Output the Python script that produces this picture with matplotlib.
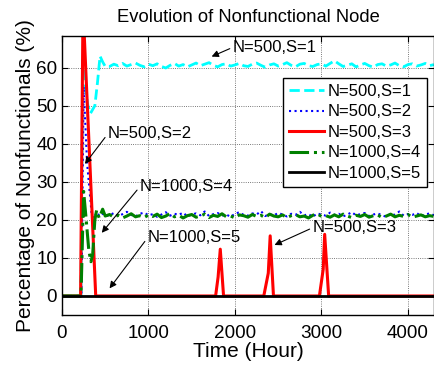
import numpy as np
import matplotlib
matplotlib.use('Agg')
import matplotlib.pyplot as plt

plt.rcParams['font.family'] = ['Liberation Sans', 'DejaVu Sans']

# start-up transients (hours, %)
s1_t0 = [0, 220, 240, 265, 300, 330, 380, 410, 440, 470, 500]
s1_v0 = [0, 0, 62, 55, 50, 48, 50, 56, 63, 61.5, 60.3]
s2_t0 = [0, 225, 250, 290, 345, 370, 400, 430, 460, 500]
s2_v0 = [0, 0, 55, 35, 21, 20.5, 22, 21.2, 21.8, 21.0]
s4_t0 = [0, 220, 250, 280, 310, 335, 355, 380, 400, 430, 470, 500]
s4_v0 = [0, 0, 27.5, 20, 12, 9, 11, 20, 22.5, 20.5, 22.8, 21.0]

# steady part sampled every 50 h from 550 h
steady_t = list(range(550, 4301, 50))
s1_v = [60.3, 60.9, 60.5, 61.1, 60.4, 60.8, 61.2, 60.6, 60.2, 60.9,
        60.5, 61.0, 60.3, 59.9, 60.6, 61.1, 60.4, 60.8, 60.2, 60.7,
        61.2, 60.5, 60.9, 61.3, 60.6, 60.2, 60.8, 61.0, 60.4, 60.7,
        61.1, 60.5, 60.3, 60.9, 61.2, 60.6, 60.1, 60.7, 61.0, 60.4,
        60.8, 61.3, 60.6, 60.2, 60.9, 61.1, 60.5, 60.3, 60.8, 61.0,
        60.4, 61.1, 61.8, 61.0, 60.3, 60.6, 61.0, 60.2, 60.7, 61.1,
        60.5, 60.1, 60.8, 61.0, 60.4, 60.7, 61.2, 60.5, 60.2, 60.8,
        61.0, 60.4, 60.7, 61.1, 60.5, 60.8]
s2_v = [21.2, 21.8, 21.0, 21.5, 22.1, 21.3, 20.9, 21.6, 21.9, 21.2,
        21.5, 20.8, 21.4, 22.0, 21.1, 21.6, 21.3, 21.9, 20.9, 21.4,
        21.7, 21.2, 22.2, 21.0, 21.5, 21.8, 21.1, 21.4, 20.8, 21.6,
        22.0, 21.3, 21.1, 21.7, 21.4, 22.3, 21.0, 21.5, 21.2, 21.8,
        21.4, 20.9, 21.6, 21.3, 22.1, 21.2, 21.5, 20.8, 21.7, 21.4,
        21.1, 21.9, 21.3, 21.6, 20.9, 21.4, 22.0, 21.2, 21.5, 21.8,
        21.0, 21.4, 21.7, 21.2, 20.8, 21.6, 21.3, 22.2, 21.1, 21.5,
        21.3, 21.8, 21.0, 21.4, 21.7, 21.2]
s4_v = [21.4, 20.7, 21.2, 20.5, 21.0, 21.6, 20.8, 21.1, 20.6, 21.3,
        20.9, 21.5, 20.6, 21.0, 21.7, 20.8, 21.2, 20.5, 21.1, 21.4,
        20.7, 21.0, 21.5, 20.6, 21.2, 20.9, 21.6, 20.8, 21.0, 20.5,
        21.3, 21.1, 20.7, 21.4, 20.9, 21.2, 20.6, 21.5, 21.0, 20.8,
        21.3, 20.6, 21.1, 21.4, 20.8, 21.0, 20.5, 21.2, 21.6, 20.9,
        21.1, 20.7, 21.3, 20.8, 21.5, 21.0, 20.6, 21.2, 20.9, 21.4,
        20.7, 21.1, 21.3, 20.6, 21.0, 21.5, 20.8, 21.2, 20.9, 21.4,
        20.7, 21.0, 21.3, 20.8, 21.1, 20.9]

# N=500,S=3 : zero except an initial burst and three later peaks
s3_t = [0, 215, 243, 390, 1776, 1805, 1830, 1868, 2333, 2385, 2407, 2445,
        2976, 3020, 3037, 3083, 4300]
s3_v = [0, 0, 76, 0, 0, 5, 12.3, 0, 0, 6, 15.8, 0, 0, 7, 16.2, 0, 0]

# N=1000,S=5 : stays at zero
s5_t = [0, 4300]
s5_v = [0, 0]

labels = ['N=500,S=1', 'N=500,S=2', 'N=500,S=3', 'N=1000,S=4', 'N=1000,S=5']

fig = plt.figure(figsize=(4.35, 3.66), dpi=100)
ax = fig.add_axes([0.1425, 0.1393, 0.855, 0.7623])

ax.plot(s1_t0 + steady_t, s1_v0 + s1_v, color='cyan', ls='--', lw=2, label=labels[0])
ax.plot(s2_t0 + steady_t, s2_v0 + s2_v, color='blue', ls=':', lw=1.5, label=labels[1])
ax.plot(s3_t, s3_v, color='red', ls='-', lw=2.2, label=labels[2])
ax.plot(s4_t0 + steady_t, s4_v0 + s4_v, color='green', ls='-.', lw=2.2, label=labels[3])
ax.plot(s5_t, s5_v, color='black', ls='-', lw=2, label=labels[4])

ax.set_xlim(0, 4300)
ax.set_ylim(-5, 68.3)
ax.set_xticks([0, 1000, 2000, 3000, 4000])
ax.set_yticks([0, 10, 20, 30, 40, 50, 60])
ax.tick_params(direction='in', top=True, right=True, labelsize=13.6, length=4)
ax.tick_params(axis='x', pad=7)
ax.grid(True, ls=':', color='0.3', lw=0.6)
for sp in ax.spines.values():
    sp.set_linewidth(1)

ax.set_title('Evolution of Nonfunctional Node', fontsize=13.2, pad=10)
ax.set_xlabel('Time (Hour)', fontsize=15, labelpad=0)
ax.set_ylabel('Percentage of Nonfunctionals (%)', fontsize=15, labelpad=1)

leg = ax.legend(loc='upper right', bbox_to_anchor=(0.981, 0.849), fontsize=12,
                fancybox=False, framealpha=1, edgecolor='black',
                handlelength=2.1, borderpad=0.35, labelspacing=0.33,
                handletextpad=0.25, borderaxespad=0)
leg.get_frame().set_linewidth(1)

arrow = dict(arrowstyle='-|>', color='black', lw=0.8, mutation_scale=10,
             shrinkA=0, shrinkB=0, relpos=(0, 0.5))
notes = [('N=500,S=1', (1730, 62.9), (1972, 65.3)),
         ('N=500,S=2', (265, 34.7), (530, 42.6)),
         ('N=1000,S=4', (460, 16.6), (900, 28.7)),
         ('N=1000,S=5', (550, 2.0), (990, 15.3)),
         ('N=500,S=3', (2457, 13.4), (2895, 17.9))]
for txt, tip, pos in notes:
    ax.annotate(txt, xy=tip, xytext=pos, fontsize=12, ha='left', va='center',
                arrowprops=arrow)

fig.savefig('out.png', dpi=100)
